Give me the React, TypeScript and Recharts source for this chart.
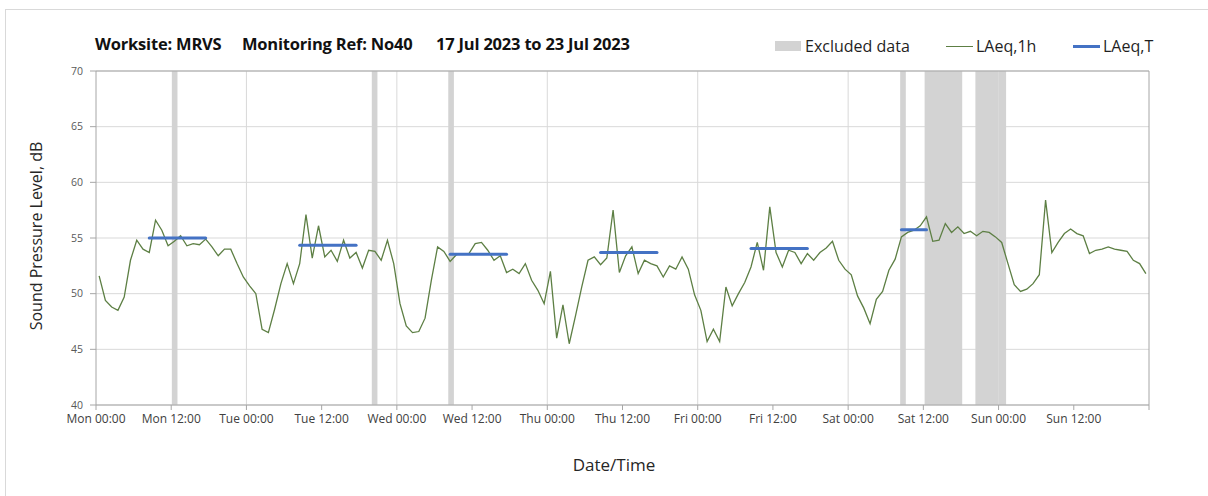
import React from "react";
import {
  ComposedChart,
  Line,
  XAxis,
  YAxis,
  CartesianGrid,
  ReferenceArea,
  ReferenceLine,
} from "recharts";

// hourly LAeq,1h, one value per hour from Mon 00:00 (plotted at the hour midpoint)
const LAEQ_1H: number[] = [
  51.6, 49.4, 48.8, 48.5, 49.7, 53.0, 54.8, 54.0, 53.7, 56.6, 55.7, 54.3,
  54.7, 55.2, 54.3, 54.5, 54.4, 54.9, 54.2, 53.4, 54.0, 54.0, 52.7, 51.5,
  50.7, 50.0, 46.8, 46.5, 48.6, 50.9, 52.7, 50.9, 52.7, 57.1, 53.2, 56.1,
  53.3, 53.9, 52.9, 54.8, 53.2, 53.7, 52.3, 53.9, 53.8, 53.0, 54.8, 52.7,
  49.1, 47.1, 46.5, 46.6, 47.8, 51.2, 54.2, 53.8, 52.9, 53.5, 53.6, 53.6,
  54.5, 54.6, 53.9, 53.0, 53.4, 51.9, 52.2, 51.8, 52.7, 51.2, 50.3, 49.1,
  52.0, 46.0, 49.0, 45.5, 48.0, 50.6, 53.0, 53.3, 52.6, 53.2, 57.5, 51.9,
  53.4, 54.2, 51.8, 53.0, 52.7, 52.5, 51.5, 52.5, 52.2, 53.3, 52.2, 49.9,
  48.5, 45.7, 46.8, 45.7, 50.6, 48.9, 50.0, 51.0, 52.4, 54.6, 52.1, 57.8,
  53.7, 52.4, 53.9, 53.7, 52.7, 53.6, 53.0, 53.7, 54.1, 54.7, 53.0, 52.2,
  51.7, 49.8, 48.7, 47.3, 49.5, 50.2, 52.1, 53.1, 55.1, 55.5, 55.7, 56.1,
  56.9, 54.7, 54.8, 56.3, 55.5, 56.0, 55.4, 55.6, 55.2, 55.6, 55.5, 55.1,
  54.6, 52.7, 50.8, 50.2, 50.4, 50.9, 51.7, 58.4, 53.7, 54.6, 55.4, 55.8,
  55.4, 55.2, 53.6, 53.9, 54.0, 54.2, 54.0, 53.9, 53.8, 53.0, 52.7, 51.8,
];

// LAeq,T daytime periods (hours from Mon 00:00)
const LAEQ_T_START = [8.5, 32.5, 56.5, 80.5, 104.5, 128.5];
const LAEQ_T_END = [17.5, 41.5, 65.5, 89.5, 113.5, 132.5];
const LAEQ_T_LEVEL = [55.0, 54.35, 53.55, 53.7, 54.05, 55.75];

// excluded periods (hours from Mon 00:00)
const EXCL_START = [12.1, 44.0, 56.2, 128.3, 132.2, 140.3];
const EXCL_END = [13.0, 44.9, 57.1, 129.2, 138.2, 145.2];

const X_TICKS = [0, 12, 24, 36, 48, 60, 72, 84, 96, 108, 120, 132, 144, 156, 168];
const X_TICK_LABELS = [
  "Mon 00:00", "Mon 12:00", "Tue 00:00", "Tue 12:00", "Wed 00:00",
  "Wed 12:00", "Thu 00:00", "Thu 12:00", "Fri 00:00", "Fri 12:00",
  "Sat 00:00", "Sat 12:00", "Sun 00:00", "Sun 12:00", "",
];
const DAY_LINES = [24, 48, 72, 96, 120, 144];
const Y_TICKS = [40, 45, 50, 55, 60, 65, 70];

const FONT = "'Open Sans', 'Noto Sans', sans-serif";
const AXIS = "#a6a6a6";
const GRID = "#d9d9d9";
const GREEN = "#5d7f44";
const BLUE = "#4472C4";
const EXCL = "#d3d3d3";

const hourly = LAEQ_1H.map((v, i) => ({ t: i + 0.5, v }));

export default function App() {
  return (
    <div
      style={{
        position: "absolute",
        left: 0,
        top: 0,
        width: 1208,
        height: 496,
        background: "#fff",
        fontFamily: FONT,
        overflow: "hidden",
      }}
    >
      {/* chart area frame */}
      <div
        style={{
          position: "absolute",
          left: 5,
          top: 9,
          width: 1300,
          height: 600,
          borderLeft: "1px solid #d9d9d9",
          borderTop: "1px solid #d9d9d9",
        }}
      />

      {/* title */}
      <div
        style={{
          position: "absolute",
          left: 95,
          top: 32,
          fontSize: 16.5,
          fontWeight: 700,
          color: "#111",
          whiteSpace: "pre",
          letterSpacing: -0.2,
        }}
      >
        <span style={{ position: "absolute", left: 0 }}>Worksite: MRVS</span>
        <span style={{ position: "absolute", left: 147 }}>Monitoring Ref: No40</span>
        <span style={{ position: "absolute", left: 341 }}>17 Jul 2023 to 23 Jul 2023</span>
      </div>

      {/* legend */}
      <div style={{ position: "absolute", left: 775, top: 41, width: 26, height: 10, background: EXCL }} />
      <div style={{ position: "absolute", left: 805, top: 35, fontSize: 16, color: "#1f1f1f" }}>
        Excluded data
      </div>
      <div style={{ position: "absolute", left: 946, top: 46, width: 27, height: 1.3, background: GREEN }} />
      <div style={{ position: "absolute", left: 976, top: 35, fontSize: 16, color: "#1f1f1f" }}>
        LAeq,1h
      </div>
      <div style={{ position: "absolute", left: 1073, top: 45, width: 27, height: 3, background: BLUE }} />
      <div style={{ position: "absolute", left: 1103, top: 35, fontSize: 16, color: "#1f1f1f" }}>
        LAeq,T
      </div>

      {/* axis titles */}
      <div
        style={{
          position: "absolute",
          left: 36,
          top: 236,
          fontSize: 16,
          color: "#262626",
          whiteSpace: "nowrap",
          transform: "translate(-50%, -50%) rotate(-90deg)",
        }}
      >
        Sound Pressure Level, dB
      </div>
      <div
        style={{
          position: "absolute",
          left: 614,
          top: 464,
          fontSize: 17,
          color: "#262626",
          whiteSpace: "nowrap",
          transform: "translate(-50%, -50%)",
        }}
      >
        Date/Time
      </div>

      <div style={{ position: "absolute", left: 0, top: 0 }}>
        <ComposedChart
          width={1208}
          height={496}
          margin={{ top: 71, right: 59, left: 56, bottom: 61 }}
        >
          <CartesianGrid stroke={GRID} vertical={false} />
          <XAxis
            type="number"
            dataKey="t"
            domain={[0, 168]}
            ticks={X_TICKS}
            interval={0}
            allowDataOverflow
            height={30}
            stroke={AXIS}
            tickSize={5}
            tickMargin={4}
            tick={{ fontSize: 12, fill: "#404040", fontFamily: FONT }}
            tickFormatter={(v: number) => X_TICK_LABELS[X_TICKS.indexOf(v)] ?? ""}
          />
          <YAxis
            type="number"
            domain={[40, 70]}
            ticks={Y_TICKS}
            interval={0}
            allowDataOverflow
            width={40}
            stroke={AXIS}
            tickSize={6}
            tickMargin={7}
            tick={{ fontSize: 10.5, fill: "#595959", fontFamily: FONT }}
          />
          {EXCL_START.map((s, i) => (
            <ReferenceArea
              key={"ex" + i}
              x1={s}
              x2={EXCL_END[i]}
              y1={40}
              y2={70}
              fill={EXCL}
              fillOpacity={1}
              stroke="none"
              ifOverflow="hidden"
            />
          ))}
          {DAY_LINES.map((d) => (
            <ReferenceLine key={"d" + d} x={d} stroke={GRID} strokeWidth={1} />
          ))}
          <ReferenceLine y={70} stroke={AXIS} />
          <ReferenceLine x={168} stroke={AXIS} />
          <Line
            data={hourly}
            dataKey="v"
            type="linear"
            stroke={GREEN}
            strokeWidth={1.3}
            dot={false}
            activeDot={false}
            isAnimationActive={false}
          />
          {LAEQ_T_START.map((s, i) => (
            <Line
              key={"t" + i}
              data={[
                { t: s, v: LAEQ_T_LEVEL[i] },
                { t: LAEQ_T_END[i], v: LAEQ_T_LEVEL[i] },
              ]}
              dataKey="v"
              type="linear"
              stroke={BLUE}
              strokeWidth={3}
              strokeLinecap="round"
              dot={false}
              activeDot={false}
              isAnimationActive={false}
            />
          ))}
        </ComposedChart>
      </div>
    </div>
  );
}
